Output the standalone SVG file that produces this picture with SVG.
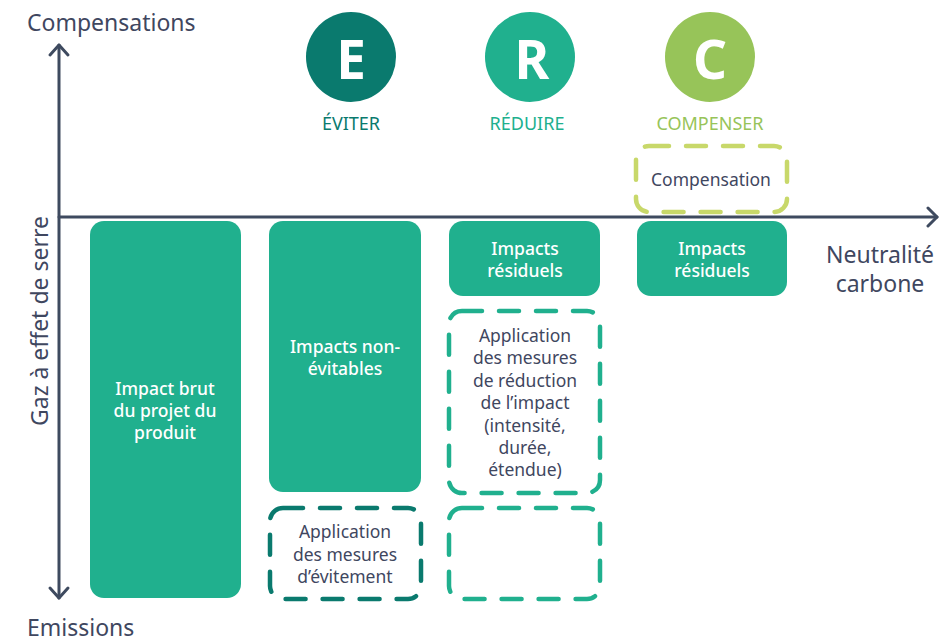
<svg xmlns="http://www.w3.org/2000/svg" width="939" height="644" viewBox="0 0 939 644">
<style>
  .ax { fill: none; stroke: #3e4a5f; stroke-width: 3; stroke-linecap: round; stroke-linejoin: round; }
  .axt { font-family: "Noto Sans", "Liberation Sans", sans-serif; font-size: 23px; fill: #3f475f; }
  .big { font-family: "Noto Sans", "Liberation Sans", sans-serif; font-size: 53px; font-weight: 700; fill: #ffffff; text-anchor: middle; }
  .lab { font-family: "Noto Sans", "Liberation Sans", sans-serif; font-size: 18px; text-anchor: middle; }
  .box { fill: #20b08e; }
  .bt { font-family: "Noto Sans", "Liberation Sans", sans-serif; font-size: 17.5px; font-weight: 500; fill: #ffffff; text-anchor: middle; }
  .dt { font-family: "Noto Sans", "Liberation Sans", sans-serif; font-size: 17.5px; fill: #3f475f; text-anchor: middle; }
  .dash { fill: none; stroke-width: 4.5; stroke-dasharray: 20 17; stroke-linecap: round; }
</style>
<rect width="939" height="644" fill="#ffffff"/>
<g id="axes">
  <path class="ax" d="M59 45 V598"/>
  <path class="ax" d="M50 55 L59 45 L68 55"/>
  <path class="ax" d="M50 588 L59 598 L68 588"/>
  <path class="ax" d="M59 217 H937"/>
  <path class="ax" d="M928 208 L937 217 L928 226"/>
  <text class="axt" x="27" y="31">Compensations</text>
  <text class="axt" x="27" y="636">Emissions</text>
  <text class="axt" x="880" y="263" text-anchor="middle">Neutralité</text>
  <text class="axt" x="880" y="292" text-anchor="middle">carbone</text>
  <text class="axt" transform="translate(48 321) rotate(-90)" text-anchor="middle">Gaz à effet de serre</text>
</g>
<g id="eviter">
  <circle cx="351" cy="57" r="45" fill="#0a7a6e"/>
  <text class="big" x="351" y="79">E</text>
  <text class="lab" x="351" y="130" fill="#0a7a6e">ÉVITER</text>
</g>
<g id="reduire">
  <circle cx="530" cy="57" r="45" fill="#20b08e"/>
  <text class="big" x="532" y="79">R</text>
  <text class="lab" x="527" y="130" fill="#20b08e">RÉDUIRE</text>
</g>
<g id="compenser">
  <circle cx="710" cy="57" r="45" fill="#97c459"/>
  <text class="big" x="710" y="79">C</text>
  <text class="lab" x="710" y="130" fill="#97c459">COMPENSER</text>
</g>
<g id="compensation">
  <rect class="dash" x="636" y="146" width="151" height="66" rx="13" stroke="#c8d86a"/>
  <text class="dt" x="711" y="186">Compensation</text>
</g>
<g id="impact-brut">
  <rect class="box" x="90" y="221" width="151" height="377" rx="14"/>
  <text class="bt" x="165" y="395">Impact brut</text>
  <text class="bt" x="165" y="417">du projet du</text>
  <text class="bt" x="165" y="439">produit</text>
</g>
<g id="impacts-non-evitables">
  <rect class="box" x="269" y="221" width="152" height="271" rx="14"/>
  <text class="bt" x="345" y="353">Impacts non-</text>
  <text class="bt" x="345" y="375">évitables</text>
</g>
<g id="evitement">
  <rect class="dash" x="270" y="508" width="151" height="91" rx="13" stroke="#0a7a6e"/>
  <text class="dt" x="345" y="538">Application</text>
  <text class="dt" x="345" y="561">des mesures</text>
  <text class="dt" x="345" y="583">d’évitement</text>
</g>
<g id="residuels-reduire">
  <rect class="box" x="449" y="221" width="151" height="75" rx="14"/>
  <text class="bt" x="525" y="255">Impacts</text>
  <text class="bt" x="525" y="277">résiduels</text>
</g>
<g id="reduction">
  <rect class="dash" x="449" y="311" width="151" height="182" rx="13" stroke="#20b08e"/>
  <text class="dt" x="525" y="342">Application</text>
  <text class="dt" x="525" y="364">des mesures</text>
  <text class="dt" x="525" y="387">de réduction</text>
  <text class="dt" x="525" y="409">de l’impact</text>
  <text class="dt" x="525" y="432">(intensité,</text>
  <text class="dt" x="525" y="454">durée,</text>
  <text class="dt" x="525" y="476">étendue)</text>
</g>
<g id="reduction-vide">
  <rect class="dash" x="449" y="508" width="151" height="91" rx="13" stroke="#20b08e"/>
</g>
<g id="residuels-compenser">
  <rect class="box" x="637" y="221" width="150" height="75" rx="14"/>
  <text class="bt" x="712" y="255">Impacts</text>
  <text class="bt" x="712" y="277">résiduels</text>
</g>
</svg>
